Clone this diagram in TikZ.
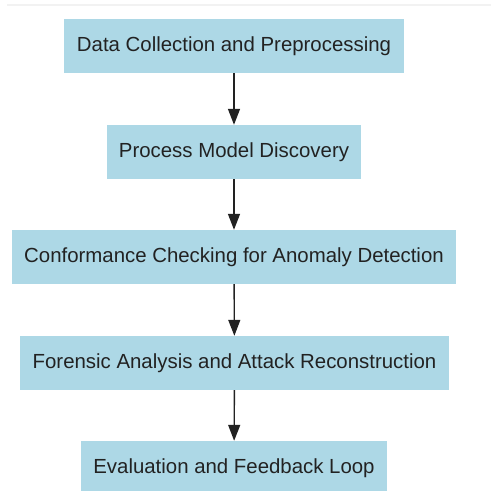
\documentclass[tikz,border=0pt]{standalone}
\usepackage{fontspec}
\setmainfont{Liberation Sans}
\usetikzlibrary{arrows.meta}
\definecolor{boxblue}{HTML}{ADD8E6}
\definecolor{txt}{HTML}{222222}
\definecolor{arr}{HTML}{222222}
\definecolor{topline}{HTML}{F2F2F2}
\begin{document}
\begin{tikzpicture}[x=1pt,y=-1pt,
  stepbox/.style={fill=boxblue, draw=none, inner sep=0pt, text=txt,
    font=\fontsize{20.4}{23}\selectfont},
  flow/.style={draw=arr, line width=1.4pt, -{Triangle[length=16pt,width=12pt]}}]
\useasboundingbox (0,0) rectangle (491,491);
\fill[white] (0,0) rectangle (491,491);
\draw[topline, line width=1.5pt] (7,5) -- (491,5);
\node[stepbox, minimum width=340pt, minimum height=54pt] (a) at (234,46) {Data Collection and Preprocessing};
\node[stepbox, minimum width=254pt, minimum height=54pt] (b) at (234,152) {Process Model Discovery};
\node[stepbox, minimum width=444pt, minimum height=54pt] (c) at (234,257) {Conformance Checking for Anomaly Detection};
\node[stepbox, minimum width=429pt, minimum height=54pt] (d) at (234.5,363) {Forensic Analysis and Attack Reconstruction};
\node[stepbox, minimum width=306pt, minimum height=54pt] (e) at (234,468) {Evaluation and Feedback Loop};
\draw[flow] (a) -- (b);
\draw[flow] (b) -- (c);
\draw[flow] (c) -- (d);
\draw[flow] (d) -- (e);
\end{tikzpicture}
\end{document}
